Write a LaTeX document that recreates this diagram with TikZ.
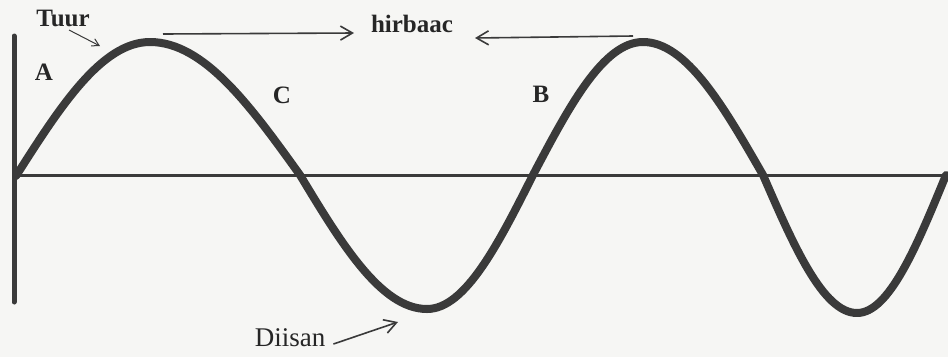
\documentclass[tikz,border=0pt]{standalone}
\usepackage{fontspec}
\setmainfont{Liberation Serif}
\usetikzlibrary{arrows.meta}
\definecolor{ink}{HTML}{3A3A3A}
\definecolor{paper}{HTML}{F6F6F4}
\tikzset{
  lbl/.style={font=\bfseries\fontsize{25}{28}\selectfont, text=black!85, inner sep=0pt},
  wave/.style={draw=ink, line width=8pt, line cap=round, line join=round},
  axisline/.style={draw=ink, line width=3pt},
  pointer/.style={draw=ink, line width=1.6pt, -{Straight Barb[length=12pt,width=14pt,line width=1.6pt]}}
}
\begin{document}
\begin{tikzpicture}[x=1pt,y=-1pt]
\fill[paper] (0,0) rectangle (948,357);
\useasboundingbox (0,0) rectangle (948,357);
% axes
\coordinate (vtop) at (14,36);
\coordinate (vbot) at (14,302);
\coordinate (hl) at (14,175);
\coordinate (hr) at (948,175);
\draw[axisline, line width=5pt, line cap=round] (vtop) -- (vbot);
\draw[axisline] (hl) -- (hr);
% wave
\draw[wave] (16,176) sin (150,42) cos (300,175) sin (427,309) cos (533,175)
  sin (643,42) cos (763,175) sin (857,313) cos (946,175);
% labels
\node[lbl] (tuur) at (63,18) {Tuur};
\node[lbl] (hirb) at (412,24) {hirbaac};
\node[lbl] (A) at (44,72) {A};
\node[lbl] (C) at (282,95) {C};
\node[lbl] (B) at (541,94) {B};
\node[lbl, font=\fontsize{27}{30}\selectfont] (diis) at (290,338) {Diisan};
% pointers
\coordinate (tuurtip) at (100,46);
\coordinate (p1) at (163,34);
\coordinate (p1tip) at (354,33);
\coordinate (p2) at (633,36);
\coordinate (p2tip) at (475,38);
\coordinate (dtip) at (398,322);
\draw[pointer, line width=1pt, -{Straight Barb[length=7pt,width=8pt,line width=1pt]}] (69,30) -- (tuurtip);
\draw[pointer] (p1) -- (p1tip);
\draw[pointer] (p2) -- (p2tip);
\draw[pointer] (diis.east) ++(8,6) coordinate (dstart) -- (dtip);
\end{tikzpicture}
\end{document}
